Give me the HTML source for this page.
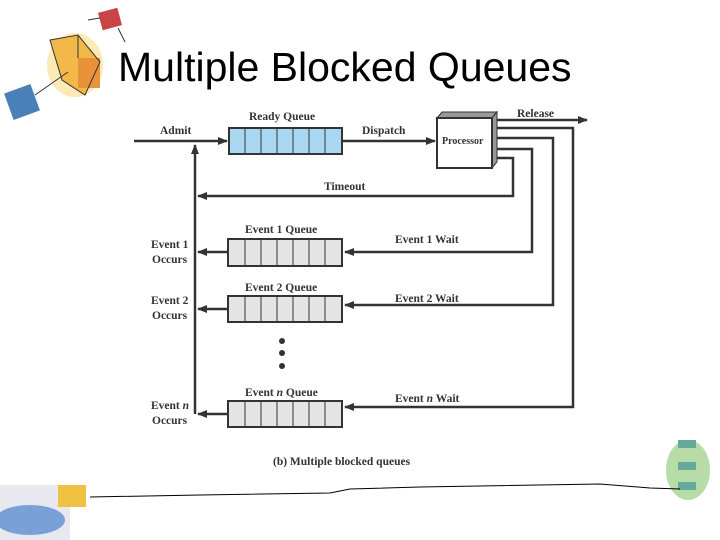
<!DOCTYPE html>
<html><head><style>
body{margin:0;width:720px;height:540px;background:#fff;overflow:hidden;position:relative;font-family:"Liberation Sans",sans-serif}
.t{position:absolute;left:118px;top:44px;font-size:41px;color:#000}
svg{position:absolute;left:0;top:0}
</style></head><body>
<svg width="720" height="540" viewBox="0 0 720 540">
<defs><marker id="a" markerWidth="10" markerHeight="8" refX="9" refY="4" orient="auto" markerUnits="userSpaceOnUse"><path d="M0,0L10,4L0,8z" fill="#333"/></marker></defs>
<ellipse cx="75" cy="65" rx="28" ry="32" fill="#fbe3a0" opacity=".8"/>
<polygon points="50,40 78,35 100,62 85,95 62,80" fill="#f2b84a"/>
<rect x="78" y="58" width="22" height="30" fill="#e8923a"/>
<path d="M50,40 L78,35 L100,62 L85,95 L62,80z M78,35 L78,58" stroke="#333" fill="none"/>
<rect x="100" y="10" width="20" height="18" fill="#c94545" transform="rotate(-15 110 19)"/>
<rect x="8" y="88" width="28" height="28" fill="#4a7fb8" transform="rotate(-20 22 102)"/>
<path d="M35,95 L68,72 M88,20 L100,18 M118,28 L125,42" stroke="#333"/>
<rect x="0" y="485" width="70" height="55" fill="#e8e8f0"/>
<rect x="58" y="485" width="28" height="22" fill="#f0c040"/>
<ellipse cx="30" cy="520" rx="35" ry="15" fill="#7aa0d8"/>
<ellipse cx="688" cy="470" rx="22" ry="30" fill="#b8dca8"/>
<rect x="678" y="440" width="18" height="8" fill="#6a9" /><rect x="678" y="462" width="18" height="8" fill="#6a9"/><rect x="678" y="482" width="18" height="8" fill="#6a9"/>
<path d="M90,497 L200,495 L330,493 L350,489 L420,487 L600,484 L650,488 L680,489" stroke="#000" fill="none"/>
<g stroke="#333" stroke-width="2.5" fill="none">
<line x1="134" y1="141" x2="227" y2="141" marker-end="url(#a)"/>
<line x1="342" y1="141" x2="435" y2="141" marker-end="url(#a)"/>
<line x1="495" y1="120" x2="587" y2="120" marker-end="url(#a)"/>
<polyline points="495,128 573,128 573,407 345,407" marker-end="url(#a)"/>
<polyline points="495,138 553,138 553,305 345,305" marker-end="url(#a)"/>
<polyline points="495,149 532,149 532,252 345,252" marker-end="url(#a)"/>
<polyline points="495,158 513,158 513,196 198,196" marker-end="url(#a)"/>
<line x1="195" y1="414" x2="195" y2="145" marker-end="url(#a)"/>
<line x1="228" y1="252" x2="198" y2="252" marker-end="url(#a)"/>
<line x1="228" y1="309" x2="198" y2="309" marker-end="url(#a)"/>
<line x1="228" y1="414" x2="198" y2="414" marker-end="url(#a)"/>
</g>
<rect x="229" y="128" width="113" height="26" fill="#aad8f2" stroke="#333" stroke-width="2"/>
<rect x="228" y="239" width="114" height="27" fill="#e4e4e4" stroke="#333" stroke-width="2"/>
<rect x="228" y="296" width="114" height="26" fill="#e4e4e4" stroke="#333" stroke-width="2"/>
<rect x="228" y="401" width="114" height="26" fill="#e4e4e4" stroke="#333" stroke-width="2"/>
<g stroke="#333" stroke-width="1">
<path d="M245,128v26M261,128v26M277,128v26M293,128v26M309,128v26M325,128v26"/>
<path d="M245,239v27M261,239v27M277,239v27M293,239v27M309,239v27M325,239v27"/>
<path d="M245,296v26M261,296v26M277,296v26M293,296v26M309,296v26M325,296v26"/>
<path d="M245,401v26M261,401v26M277,401v26M293,401v26M309,401v26M325,401v26"/>
</g>
<polygon points="437,118 442,112 497,112 492,118" fill="#999" stroke="#333"/>
<polygon points="492,118 497,112 497,162 492,168" fill="#999" stroke="#333"/>
<rect x="437" y="118" width="55" height="50" fill="#fff" stroke="#333" stroke-width="2"/>
<circle cx="282" cy="341" r="3" fill="#333"/><circle cx="282" cy="353" r="3" fill="#333"/><circle cx="282" cy="366" r="3" fill="#333"/>
<g font-family="Liberation Serif,serif" font-weight="bold" font-size="11.5" fill="#333">
<text x="160" y="134">Admit</text>
<text x="249" y="120">Ready Queue</text>
<text x="362" y="134">Dispatch</text>
<text x="517" y="117">Release</text>
<text x="442" y="144" font-size="10">Processor</text>
<text x="324" y="190">Timeout</text>
<text x="245" y="233">Event 1 Queue</text>
<text x="245" y="291">Event 2 Queue</text>
<text x="245" y="396">Event <tspan font-style="italic">n</tspan> Queue</text>
<text x="395" y="243">Event 1 Wait</text>
<text x="395" y="302">Event 2 Wait</text>
<text x="395" y="402">Event <tspan font-style="italic">n</tspan> Wait</text>
<text x="151" y="248">Event 1</text><text x="152" y="263">Occurs</text>
<text x="151" y="304">Event 2</text><text x="152" y="319">Occurs</text>
<text x="151" y="409">Event <tspan font-style="italic">n</tspan></text><text x="152" y="424">Occurs</text>
<text x="273" y="465">(b) Multiple blocked queues</text>
</g>
</svg>
<div class="t">Multiple Blocked Queues</div>
</body></html>
